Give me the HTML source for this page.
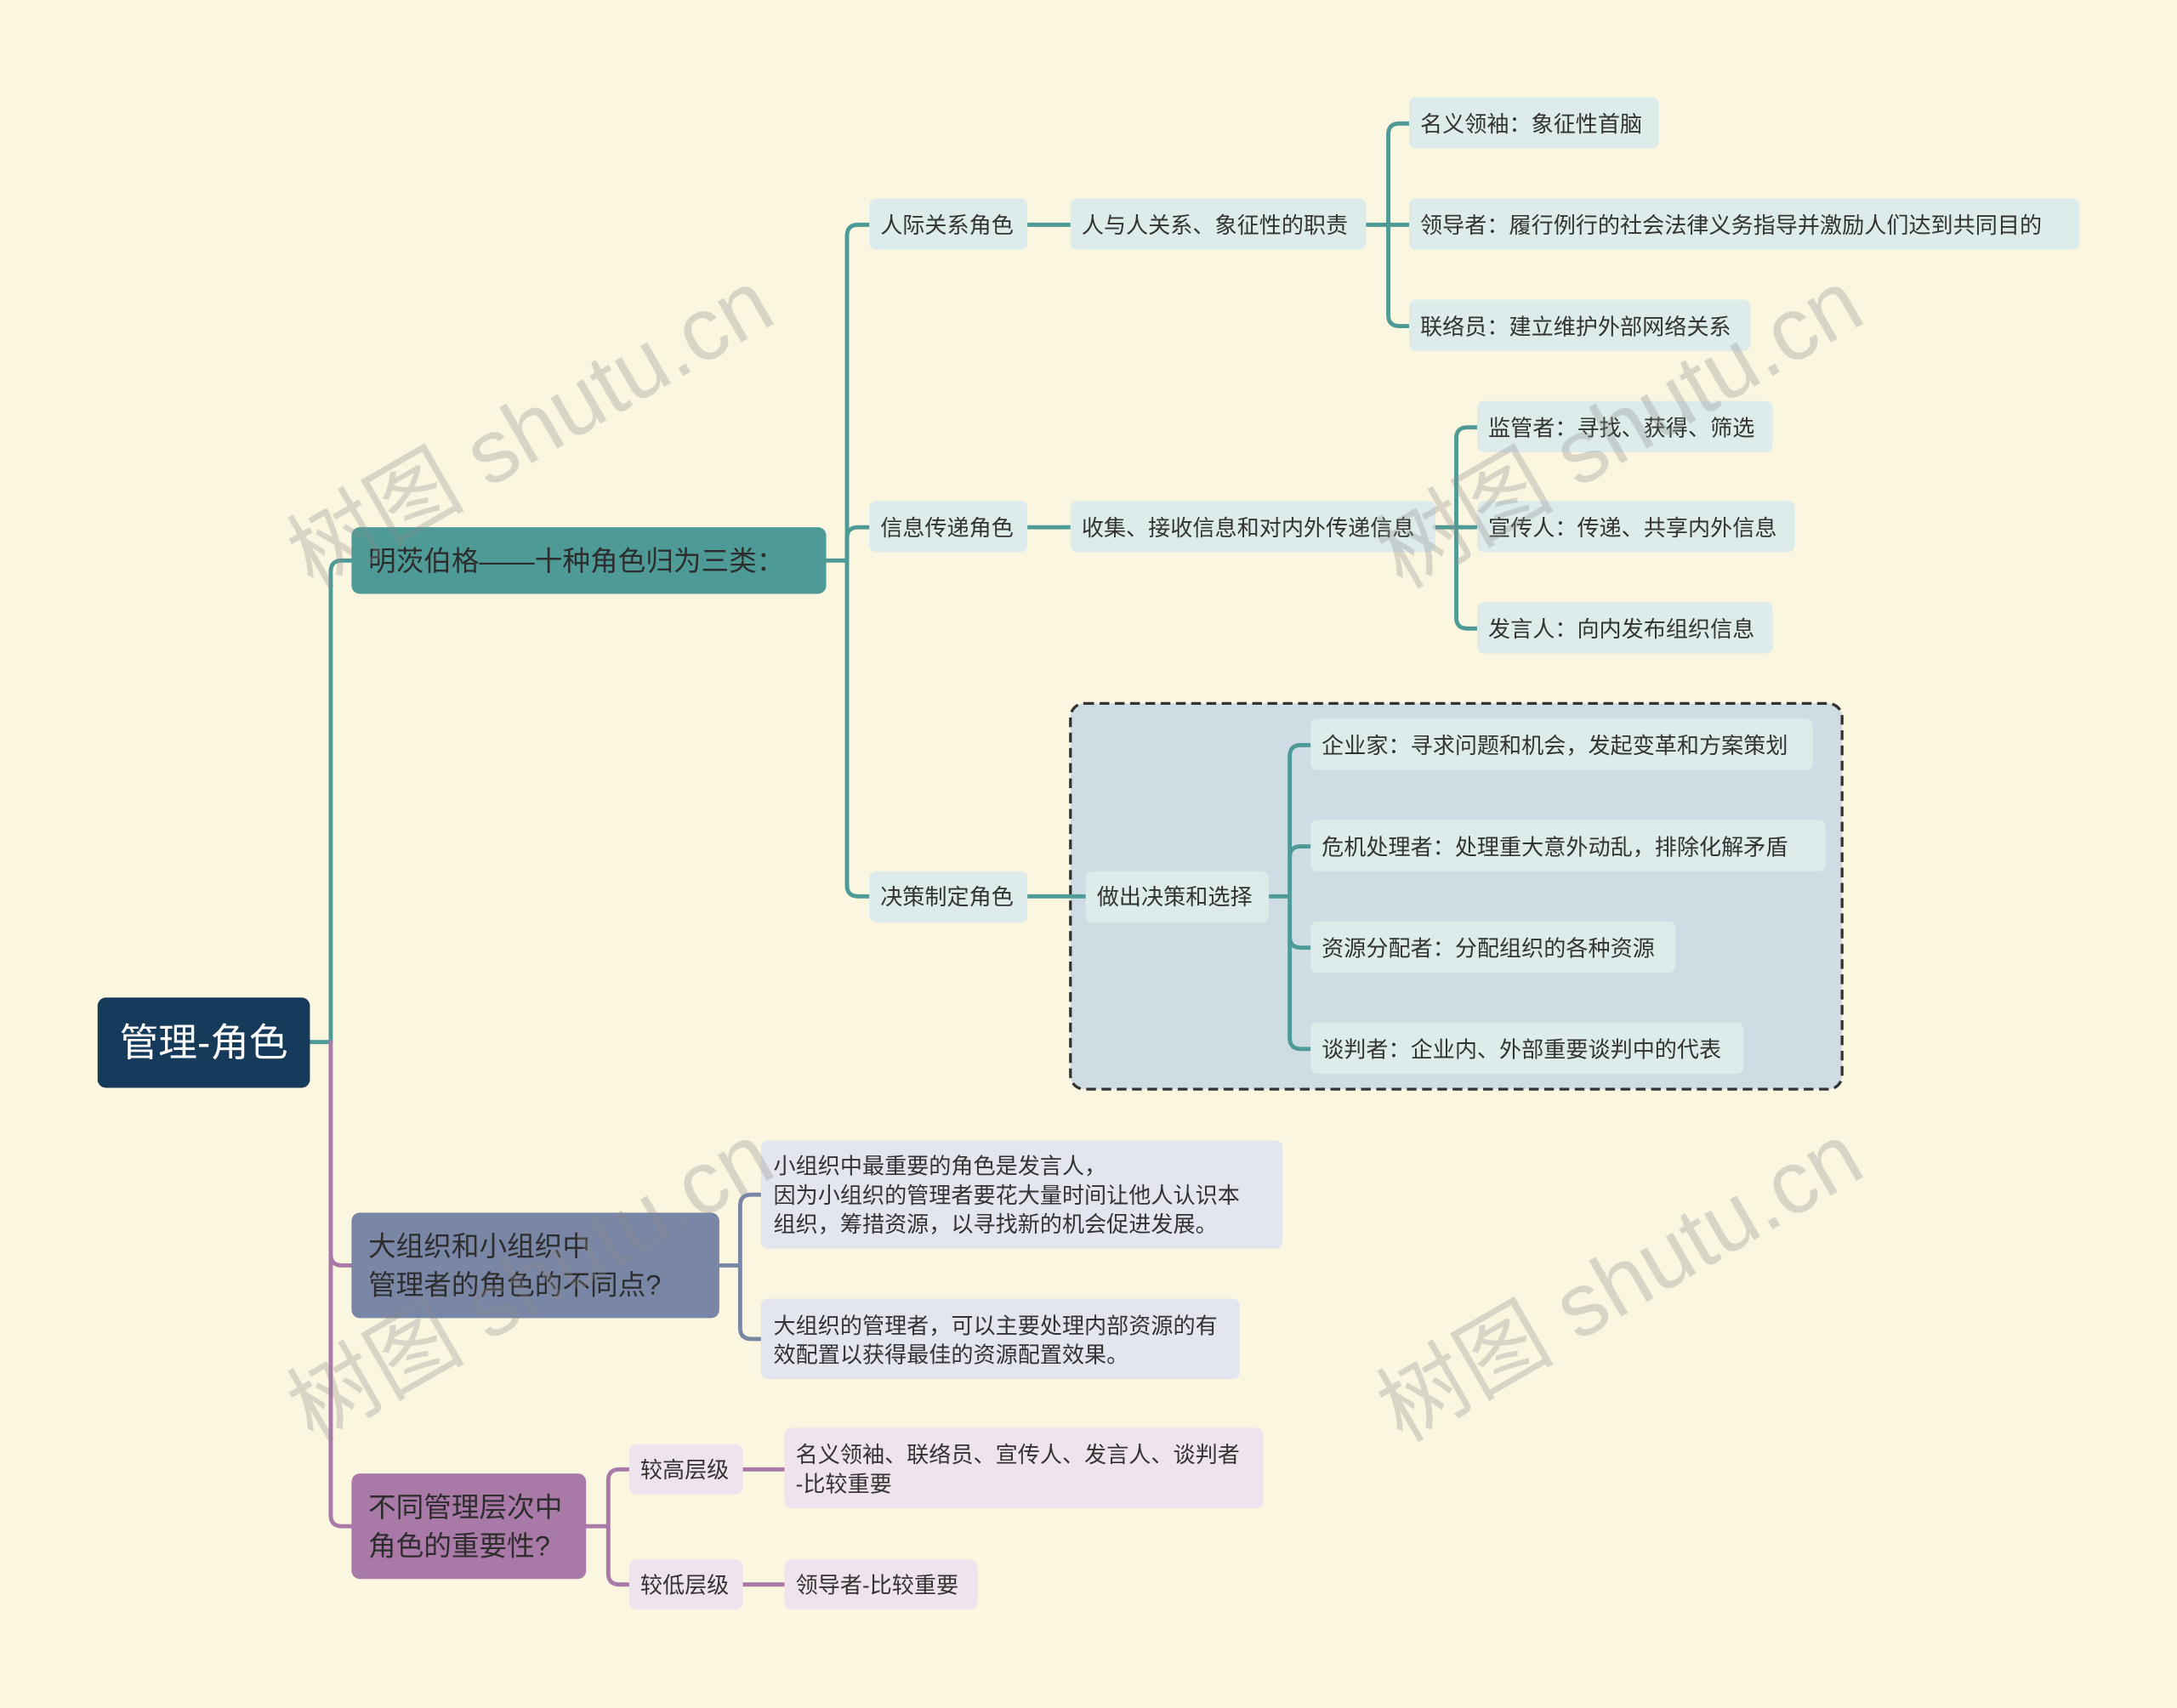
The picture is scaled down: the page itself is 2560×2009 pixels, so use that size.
<!DOCTYPE html>
<html><head><meta charset="utf-8"><style>
html,body{margin:0;padding:0;background:#fbf6e0;}
svg{display:block}
text{font-family:"Liberation Sans","Noto Sans CJK SC",sans-serif;}
</style></head><body>
<svg width="2560" height="2009" viewBox="0 0 1568 1231" xmlns="http://www.w3.org/2000/svg">
<rect width="1568" height="1231" fill="#fbf6e0"/>
<!-- dashed box -->
<rect x="771" y="507" width="556" height="278" rx="10" fill="#d0dce4" stroke="#333" stroke-width="2" stroke-dasharray="7,4"/>
<g fill="none" stroke-width="3" stroke-linecap="round">
<path d="M223,751 H238 M238,751 V412 Q238,404 246,404 H253" stroke="#4e9a96"/>
<path d="M238,751 V904 Q238,912 246,912 H253 M238,751 V1092 Q238,1100 246,1100 H253" stroke="#a97aa8"/>
<g stroke="#4e9a96">
<path d="M595,404 H610 V170 Q610,162 618,162 H626"/>
<path d="M610,404 V388 Q610,380 618,380 H626"/>
<path d="M610,404 V638 Q610,646 618,646 H626"/>
<path d="M740,162 H771 M740,380 H771 M740,646 H782"/>
<path d="M984,162 H1000 V97 Q1000,89 1008,89 H1015 M1000,162 H1015 M1000,162 V227 Q1000,235 1008,235 H1015"/>
<path d="M1034,380 H1049 V316 Q1049,308 1057,308 H1064 M1049,380 H1064 M1049,380 V445 Q1049,453 1057,453 H1064"/>
<path d="M914,646 H929 M929,545 Q929,537 937,537 H944 M929,618 Q929,610 937,610 H944 M929,675 Q929,683 937,683 H944 M929,748 Q929,756 937,756 H944 M929,545 V748"/>
</g>
<g stroke="#7a86a6">
<path d="M518,912 H533 V869 Q533,861 541,861 H548 M533,912 V957 Q533,965 541,965 H548"/>
</g>
<g stroke="#a97aa8">
<path d="M422,1100 H438 V1067 Q438,1059 446,1059 H453 M438,1100 V1134 Q438,1142 446,1142 H453"/>
<path d="M535,1059 H565 M535,1142 H565"/>
</g>
</g>
<rect x="70" y="719" width="153" height="65" rx="6" fill="#163a5a"/>
<text x="146.5" y="761" font-size="28" fill="#fff" text-anchor="middle">管理-角色</text>
<rect x="253" y="380" width="342" height="48" rx="6" fill="#4e9a96"/>
<text x="265" y="411" font-size="20" fill="#2d2d2d">明茨伯格——十种角色归为三类：</text>
<rect x="253" y="874" width="265" height="76" rx="6" fill="#7a86a6"/>
<text x="265" y="905" font-size="20" fill="#2d2d2d">大组织和小组织中</text>
<text x="265" y="933" font-size="20" fill="#2d2d2d">管理者的角色的不同点?</text>
<rect x="253" y="1062" width="169" height="76" rx="6" fill="#a97aa8"/>
<text x="265" y="1093" font-size="20" fill="#2d2d2d">不同管理层次中</text>
<text x="265" y="1121" font-size="20" fill="#2d2d2d">角色的重要性?</text>
<g font-size="16" fill="#333">
<g fill="#ddeceb">
<rect x="626" y="143" width="114" height="37" rx="5"/>
<rect x="771" y="143" width="213" height="37" rx="5"/>
<rect x="1015" y="70" width="180" height="37" rx="5"/>
<rect x="1015" y="143" width="483" height="37" rx="5"/>
<rect x="1015" y="216" width="246" height="37" rx="5"/>
<rect x="626" y="361" width="114" height="37" rx="5"/>
<rect x="771" y="361" width="263" height="37" rx="5"/>
<rect x="1064" y="289" width="213" height="37" rx="5"/>
<rect x="1064" y="361" width="229" height="37" rx="5"/>
<rect x="1064" y="434" width="213" height="37" rx="5"/>
<rect x="626" y="628" width="114" height="37" rx="5"/>
<rect x="782" y="628" width="132" height="37" rx="5"/>
<rect x="944" y="518" width="362" height="37" rx="5"/>
<rect x="944" y="591" width="371" height="37" rx="5"/>
<rect x="944" y="664" width="263" height="37" rx="5"/>
<rect x="944" y="737" width="312" height="37" rx="5"/>
</g>
<g fill="#e3e6ee">
<rect x="548" y="822" width="376" height="78" rx="5"/>
<rect x="548" y="936" width="345" height="58" rx="5"/>
</g>
<g fill="#efe3ee">
<rect x="453" y="1041" width="82" height="36" rx="5"/>
<rect x="453" y="1124" width="82" height="36" rx="5"/>
<rect x="565" y="1029" width="345" height="58" rx="5"/>
<rect x="565" y="1124" width="139" height="36" rx="5"/>
</g>
<text x="634" y="168">人际关系角色</text>
<text x="779" y="168">人与人关系、象征性的职责</text>
<text x="1023" y="95">名义领袖：象征性首脑</text>
<text x="1023" y="168">领导者：履行例行的社会法律义务指导并激励人们达到共同目的</text>
<text x="1023" y="241">联络员：建立维护外部网络关系</text>
<text x="634" y="386">信息传递角色</text>
<text x="779" y="386">收集、接收信息和对内外传递信息</text>
<text x="1072" y="314">监管者：寻找、获得、筛选</text>
<text x="1072" y="386">宣传人：传递、共享内外信息</text>
<text x="1072" y="459">发言人：向内发布组织信息</text>
<text x="634" y="652">决策制定角色</text>
<text x="790" y="652">做出决策和选择</text>
<text x="952" y="543">企业家：寻求问题和机会，发起变革和方案策划</text>
<text x="952" y="616">危机处理者：处理重大意外动乱，排除化解矛盾</text>
<text x="952" y="689">资源分配者：分配组织的各种资源</text>
<text x="952" y="762">谈判者：企业内、外部重要谈判中的代表</text>
<text x="557" y="846">小组织中最重要的角色是发言人，</text>
<text x="557" y="867">因为小组织的管理者要花大量时间让他人认识本</text>
<text x="557" y="888">组织，筹措资源，以寻找新的机会促进发展。</text>
<text x="557" y="961">大组织的管理者，可以主要处理内部资源的有</text>
<text x="557" y="982">效配置以获得最佳的资源配置效果。</text>
<text x="461" y="1065">较高层级</text>
<text x="461" y="1148">较低层级</text>
<text x="573" y="1054">名义领袖、联络员、宣传人、发言人、谈判者</text>
<text x="573" y="1075">-比较重要</text>
<text x="573" y="1148">领导者-比较重要</text>
</g>
<g font-family="Liberation Serif,Noto Serif CJK SC,serif" font-size="64" fill="#8a8a8a" opacity="0.3">
<text transform="translate(225,425) rotate(-30)">树图 shutu.cn</text>
<text transform="translate(1010,425) rotate(-30)">树图 shutu.cn</text>
<text transform="translate(225,1040) rotate(-30)">树图 shutu.cn</text>
<text transform="translate(1010,1040) rotate(-30)">树图 shutu.cn</text>
</g>
</svg>
</body></html>
